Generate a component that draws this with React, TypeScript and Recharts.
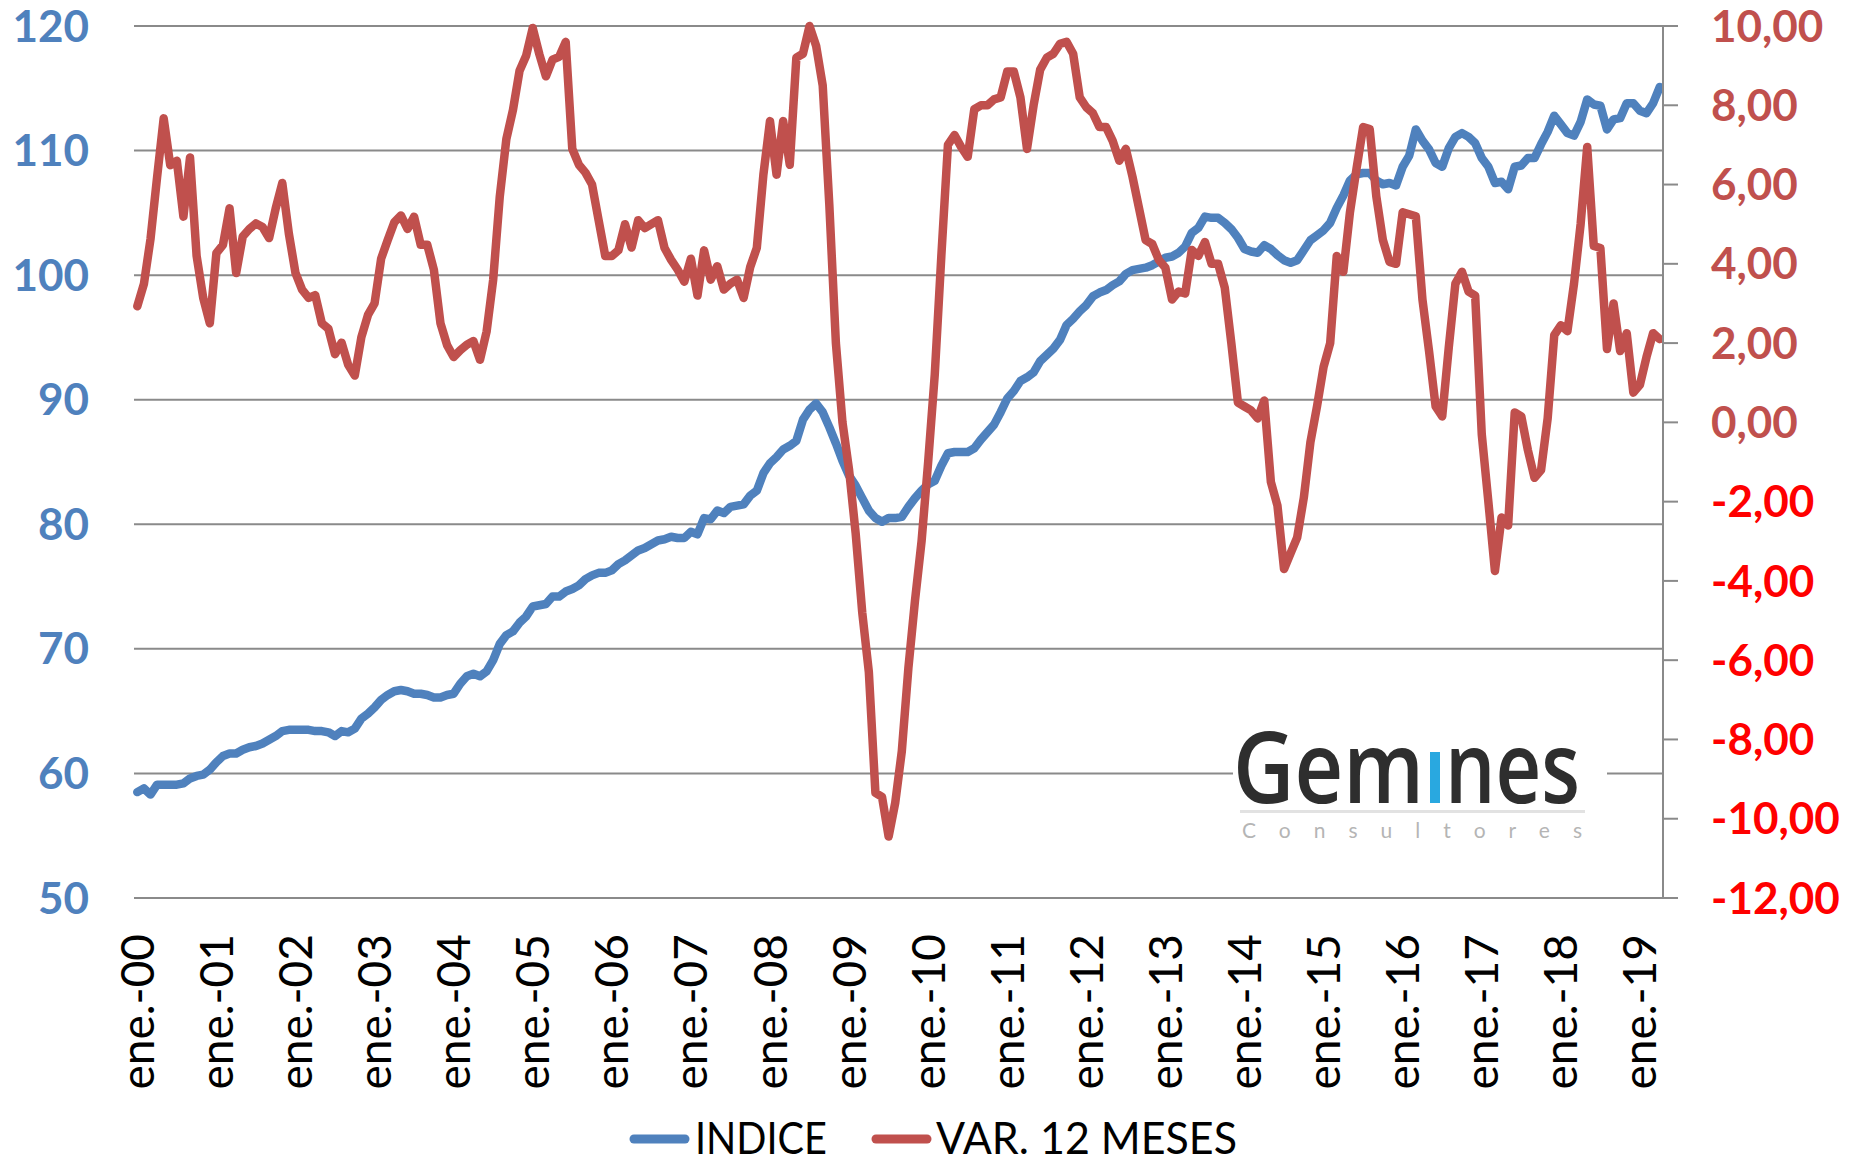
import React from 'react';
import { LineChart, Line, XAxis, YAxis, CartesianGrid } from 'recharts';

// month / year pieces for the category labels
const meses = ['ene.', 'feb.', 'mar.', 'abr.', 'may.', 'jun.', 'jul.', 'ago.', 'sep.', 'oct.', 'nov.', 'dic.'];
const anios = ['00', '01', '02', '03', '04', '05', '06', '07', '08', '09', '10', '11', '12', '13', '14', '15', '16', '17', '18', '19'];

// INDICE, monthly, ene.-00 .. abr.-19
const indice = [
  58.5, 58.8, 58.3, 59.1, 59.1, 59.1, 59.1, 59.2, 59.6, 59.8, 59.9, 60.3,
  60.9, 61.4, 61.6, 61.6, 61.9, 62.1, 62.2, 62.4, 62.7, 63.0, 63.4, 63.5,
  63.5, 63.5, 63.5, 63.4, 63.4, 63.3, 63.0, 63.4, 63.3, 63.6, 64.4, 64.8,
  65.3, 65.9, 66.3, 66.6, 66.7, 66.6, 66.4, 66.4, 66.3, 66.1, 66.1, 66.3,
  66.4, 67.2, 67.8, 68.0, 67.8, 68.2, 69.1, 70.4, 71.1, 71.4, 72.1, 72.6,
  73.4, 73.5, 73.6, 74.2, 74.2, 74.6, 74.8, 75.1, 75.6, 75.9, 76.1, 76.1,
  76.3, 76.8, 77.1, 77.5, 77.9, 78.1, 78.4, 78.7, 78.8, 79.0, 78.9, 78.9,
  79.4, 79.2, 80.5, 80.4, 81.1, 80.9, 81.4, 81.5, 81.6, 82.3, 82.7, 84.1,
  84.9, 85.4, 86.0, 86.3, 86.7, 88.4, 89.2, 89.7, 89.0, 87.8, 86.5, 85.1,
  83.9, 83.1, 82.1, 81.1, 80.5, 80.2, 80.5, 80.5, 80.6, 81.4, 82.1, 82.7,
  83.2, 83.5, 84.7, 85.7, 85.8, 85.8, 85.8, 86.1, 86.8, 87.4, 88.0, 89.0,
  90.1, 90.7, 91.5, 91.8, 92.2, 93.1, 93.6, 94.1, 94.8, 96.0, 96.5, 97.1,
  97.6, 98.3, 98.6, 98.8, 99.2, 99.5, 100.1, 100.4, 100.5, 100.6, 100.8, 101.1,
  101.4, 101.5, 101.8, 102.3, 103.4, 103.8, 104.7, 104.6, 104.6, 104.2, 103.7, 103.0,
  102.1, 101.9, 101.8, 102.4, 102.1, 101.6, 101.2, 101.0, 101.2, 102.0, 102.8, 103.2,
  103.6, 104.2, 105.4, 106.4, 107.6, 108.1, 108.2, 108.2, 107.6, 107.3, 107.4, 107.2,
  108.7, 109.6, 111.7, 110.8, 110.1, 109.0, 108.7, 110.2, 111.1, 111.4, 111.1, 110.6,
  109.4, 108.7, 107.4, 107.5, 106.9, 108.7, 108.8, 109.4, 109.4, 110.5, 111.5, 112.8,
  112.1, 111.4, 111.2, 112.3, 114.1, 113.7, 113.6, 111.7, 112.5, 112.6, 113.8, 113.8,
  113.2, 113.0, 113.8, 115.1,
];

// VAR. 12 MESES (%)
const var12 = [
  2.93, 3.49, 4.62, 6.18, 7.67, 6.49, 6.60, 5.19, 6.68, 4.20, 3.14, 2.50,
  4.27, 4.48, 5.40, 3.77, 4.69, 4.88, 5.02, 4.93, 4.65, 5.40, 6.04, 4.76,
  3.77, 3.35, 3.14, 3.21, 2.50, 2.36, 1.72, 2.01, 1.45, 1.18, 2.15, 2.71,
  3.00, 4.13, 4.60, 5.05, 5.22, 4.88, 5.19, 4.48, 4.48, 3.85, 2.50, 1.95,
  1.65, 1.82, 1.96, 2.05, 1.58, 2.29, 3.60, 5.70, 7.15, 7.88, 8.87, 9.25,
  9.95, 9.29, 8.73, 9.15, 9.22, 9.60, 6.90, 6.50, 6.30, 6.00, 5.10, 4.20,
  4.20, 4.34, 5.00, 4.41, 5.10, 4.90, 5.00, 5.10, 4.40, 4.10, 3.85, 3.55,
  4.13, 3.20, 4.34, 3.60, 3.94, 3.35, 3.50, 3.60, 3.14, 3.92, 4.40, 6.25,
  7.60, 6.25, 7.60, 6.50, 9.20, 9.30, 10.00, 9.50, 8.50, 5.50, 2.00, 0.00,
  -1.20, -2.80, -4.80, -6.30, -9.35, -9.45, -10.45, -9.60, -8.30, -6.20, -4.50, -3.00,
  -1.00, 1.20, 4.20, 7.00, 7.25, 6.95, 6.70, 7.90, 8.00, 8.00, 8.15, 8.20,
  8.85, 8.85, 8.20, 6.90, 8.00, 8.90, 9.20, 9.30, 9.55, 9.60, 9.30, 8.20,
  7.95, 7.80, 7.45, 7.45, 7.10, 6.60, 6.90, 6.20, 5.40, 4.60, 4.50, 4.10,
  3.90, 3.10, 3.30, 3.25, 4.35, 4.20, 4.55, 4.00, 4.00, 3.40, 2.00, 0.50,
  0.40, 0.30, 0.10, 0.55, -1.50, -2.10, -3.70, -3.30, -2.90, -1.90, -0.50, 0.40,
  1.40, 2.00, 4.20, 3.80, 5.30, 6.40, 7.45, 7.40, 5.70, 4.60, 4.05, 4.00,
  5.30, 5.25, 5.20, 3.10, 1.80, 0.40, 0.15, 1.90, 3.50, 3.80, 3.30, 3.20,
  -0.30, -2.00, -3.75, -2.40, -2.60, 0.25, 0.15, -0.70, -1.40, -1.20, 0.10, 2.20,
  2.45, 2.30, 3.50, 5.00, 6.95, 4.45, 4.40, 1.85, 3.00, 1.80, 2.25, 0.75,
  0.95, 1.65, 2.25, 2.10,
];

const ticksIndice = [50, 60, 70, 80, 90, 100, 110, 120];
const ticksVar = [-12, -10, -8, -6, -4, -2, 0, 2, 4, 6, 8, 10];

const data = indice.map((v, i) => ({
  mes: `${meses[i % 12]}-${anios[Math.floor(i / 12)]}`,
  indice: v,
  var12: var12[i],
}));

const BLUE = '#4F81BD';
const RED = '#C0504D';
const GRID = '#8A8A8A';
const FONT = 'Lato, "Open Sans", sans-serif';

const XTick = (props: any) => {
  const { x, y, payload } = props;
  return (
    <text
      x={x}
      y={y}
      dy="0.36em"
      transform={`rotate(-90 ${x} ${y})`}
      textAnchor="end"
      fill="#000"
      fontFamily={FONT}
      fontSize={46}
    >
      {payload.value}
    </text>
  );
};

const RightTick = (props: any) => {
  const { x, y, payload } = props;
  const v = payload.value as number;
  return (
    <text
      x={x}
      y={y}
      dy="0.355em"
      textAnchor="start"
      fill={v < 0 ? '#FF0000' : RED}
      fontFamily={FONT}
      fontWeight={700}
      fontSize={44}
    >
      {v.toFixed(2).replace('.', ',')}
    </text>
  );
};

export default function App() {
  return (
    <div style={{ position: 'absolute', left: 0, top: 0, width: 1853, height: 1166, background: '#fff' }}>
      <LineChart width={1853} height={1166} data={data} margin={{ top: 26, right: 0, left: 0, bottom: 0 }}>
        <CartesianGrid yAxisId="left" vertical={false} stroke={GRID} strokeWidth={2} />
        <XAxis
          dataKey="mes"
          interval={11}
          height={268}
          tickLine={false}
          axisLine={false}
          tickSize={0}
          tickMargin={36}
          padding={{ left: 3.3, right: 3.3 }}
          tick={<XTick />}
        />
        <YAxis
          yAxisId="left"
          domain={[50, 120]}
          ticks={ticksIndice}
          width={134}
          axisLine={false}
          tickLine={false}
          tickSize={0}
          tickMargin={45}
          tick={{ fill: BLUE, fontFamily: FONT, fontWeight: 700, fontSize: 44 }}
        />
        <YAxis
          yAxisId="right"
          orientation="right"
          domain={[-12, 10]}
          ticks={ticksVar}
          width={190}
          axisLine={{ stroke: GRID, strokeWidth: 2 }}
          tickLine={{ stroke: GRID, strokeWidth: 2 }}
          tickSize={15}
          tickMargin={33}
          tick={<RightTick />}
        />
        <Line yAxisId="left" type="linear" dataKey="indice" stroke={BLUE} strokeWidth={8.5} dot={false}
          strokeLinejoin="round" strokeLinecap="round" isAnimationActive={false} />
        <Line yAxisId="right" type="linear" dataKey="var12" stroke={RED} strokeWidth={8.5} dot={false}
          strokeLinejoin="round" strokeLinecap="round" isAnimationActive={false} />
      </LineChart>

      {/* legend and watermark logo */}
      <svg width={1853} height={1166} style={{ position: 'absolute', left: 0, top: 0, pointerEvents: 'none' }}>
        <rect x={1233} y={722} width={374} height={124} fill="#fff" />
        <text x={1233} y={803} fontFamily='"Open Sans", sans-serif' fontWeight={600} fontSize={100}
          fill="#2e2e2e" textLength={191} lengthAdjust="spacingAndGlyphs">Gem</text>
        <rect x={1430} y={752} width={10} height={51} fill="#29A8E0" />
        <text x={1445} y={803} fontFamily='"Open Sans", sans-serif' fontWeight={600} fontSize={100}
          fill="#2e2e2e" textLength={135} lengthAdjust="spacingAndGlyphs">nes</text>
        <rect x={1240} y={810} width={345} height={3} fill="#e2e2e2" />
        <text x={1242} y={838} fontFamily={FONT} fontSize={21} fill="#b5b5b5"
          textLength={340} lengthAdjust="spacing">Consultores</text>

        <line x1={634} y1={1139} x2={685} y2={1139} stroke={BLUE} strokeWidth={9} strokeLinecap="round" />
        <text x={695} y={1154} fontFamily={FONT} fontSize={44} fill="#000"
          textLength={132} lengthAdjust="spacingAndGlyphs">INDICE</text>
        <line x1={876} y1={1139} x2={927} y2={1139} stroke={RED} strokeWidth={9} strokeLinecap="round" />
        <text x={936} y={1154} fontFamily={FONT} fontSize={44} fill="#000"
          textLength={301} lengthAdjust="spacingAndGlyphs">VAR. 12 MESES</text>
      </svg>
    </div>
  );
}
